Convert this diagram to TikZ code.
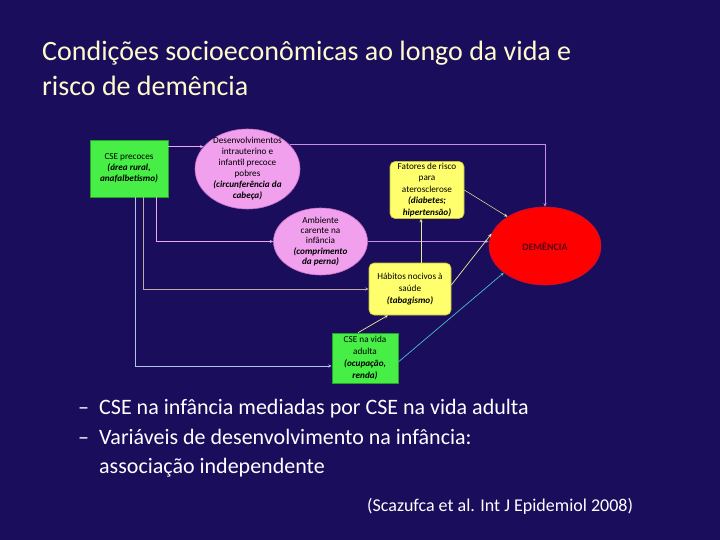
\documentclass[tikz,border=0pt]{standalone}
\usepackage{fontspec}
\setmainfont{Carlito}
\usepackage{tikz}
\usetikzlibrary{shapes.geometric,arrows.meta,positioning,calc}

\definecolor{slidebg}{RGB}{26,14,92}
\definecolor{titlecream}{RGB}{255,250,205}
\definecolor{cseGreen}{RGB}{70,238,70}
\definecolor{cseGreenDark}{RGB}{40,160,40}
\definecolor{devPink}{RGB}{240,160,236}
\definecolor{devPinkDark}{RGB}{200,110,200}
\definecolor{riskYellow}{RGB}{255,255,110}
\definecolor{riskYellowDark}{RGB}{190,190,60}
\definecolor{demRed}{RGB}{255,0,0}
\definecolor{demRedDark}{RGB}{190,20,60}
\definecolor{demText}{RGB}{90,0,20}
\definecolor{lnPink}{RGB}{235,170,240}
\definecolor{lnViolet}{RGB}{200,140,235}
\definecolor{lnTan}{RGB}{190,170,160}
\definecolor{lnBlue}{RGB}{175,195,235}
\definecolor{lnYellow}{RGB}{235,235,150}
\definecolor{lnCyan}{RGB}{70,190,200}

\tikzset{
  csebox/.style={draw=cseGreenDark, fill=cseGreen, line width=0.6pt,
                 inner sep=0pt, align=center,
                 font=\fontsize{9.2}{11.2}\selectfont},
  devoval/.style={ellipse, draw=devPinkDark, fill=devPink, line width=0.6pt,
                  inner xsep=-10pt, inner ysep=-20pt, align=center},
  riskbox/.style={draw=riskYellowDark, fill=riskYellow, line width=0.6pt,
                  rounded corners=5pt, inner sep=0pt, align=center,
                  font=\fontsize{9.2}{11.5}\selectfont},
  link/.style={line width=0.7pt, -{Stealth[length=3.5pt,width=3pt]}},
}

\begin{document}
\begin{tikzpicture}[x=1pt, y=-1pt]
    \fill[slidebg] (0,0) rectangle (720,540);

    % title
    \node[font=\fontsize{28}{32}\selectfont, text=titlecream, anchor=base west, inner sep=0pt]
      (title1) at (42,61) {Condições socioeconômicas ao longo da vida e};
    \node[font=\fontsize{28}{32}\selectfont, text=titlecream, anchor=base west, inner sep=0pt]
      (title2) at (42,96) {risco de demência};

    % boxes
    \node[csebox, minimum width=78pt, minimum height=57pt] (cseP) at (129,168.5)
      {CSE precoces\\\textbf{\textit{(área rural,}}\\\textbf{\textit{anafalbetismo)}}};
    \node[devoval, minimum width=105pt, minimum height=80pt,
          font=\fontsize{9.2}{11}\selectfont] (desenv) at (247.5,169)
      {Desenvolvimentos\\intrauterino e\\infantil precoce\\pobres\\
       \textbf{\textit{(circunferência da}}\\\textbf{\textit{cabeça)}}};
    \node[devoval, minimum width=94pt, minimum height=67pt,
          font=\fontsize{9.2}{10.3}\selectfont] (ambiente) at (320.5,241.5)
      {Ambiente\\carente na\\infância\\\textbf{\textit{(comprimento}}\\
       \textbf{\textit{da perna)}}};
    \node[riskbox, minimum width=74pt, minimum height=57pt] (fatores) at (427,190)
      {Fatores de risco\\para\\aterosclerose\\\textbf{\textit{(diabetes;}}\\
       \textbf{\textit{hipertensão)}}};
    \node[ellipse, draw=demRedDark, fill=demRed, line width=0.6pt,
          minimum width=112pt, minimum height=78pt, inner sep=0pt,
          font=\fontsize{10}{12}\selectfont\bfseries, text=demText] (demencia) at (545,246)
      {DEMÊNCIA};
    \node[riskbox, minimum width=82pt, minimum height=52pt,
          font=\fontsize{9.2}{12}\selectfont] (habitos) at (410,289)
      {Hábitos nocivos à\\saúde\\\textbf{\textit{(tabagismo)}}};
    \node[csebox, minimum width=66pt, minimum height=50pt,
          font=\fontsize{9.2}{11.7}\selectfont] (cseA) at (365,358)
      {CSE na vida\\adulta\\\textbf{\textit{(ocupação,}}\\\textbf{\textit{renda)}}};

    % connectors
    \draw[link, lnPink] (cseP.east |- desenv.153.3) -- (desenv.153.3);
    \draw[link, lnViolet] (desenv.30) -| (demencia.north);
    \draw[link, lnPink] ([xshift=27pt]cseP.south) |- (ambiente.west);
    \draw[link, lnTan] ([xshift=14pt]cseP.south) |- (habitos.west);
    \draw[link, lnBlue] ([xshift=6pt]cseP.south) |- ([yshift=-8pt]cseA.west);
    \draw[link, lnViolet] (ambiente.east) -- (ambiente.east -| demencia.west);
    \draw[link, lnYellow, line width=0.5pt] (fatores.east) -- (demencia.142);
    \draw[link, lnYellow] ([xshift=11pt]habitos.north)
      -- ([xshift=11pt]habitos.north |- fatores.south);
    \draw[link, lnYellow] ([yshift=4pt]habitos.east) -- (demencia.167);
    \draw[link, lnYellow] ([xshift=-7pt]cseA.north) -- ([xshift=-22pt]habitos.south);
    \draw[link, lnCyan] ([yshift=-4pt]cseA.east) -- (demencia.213);

    % bullets
    \foreach \t/\y [count=\n] in {{CSE na infância mediadas por CSE na vida adulta}/414,
                                  {Variáveis de desenvolvimento na infância:}/444}{
      \node[font=\fontsize{22}{26}\selectfont, text=white, anchor=base west, inner sep=0pt]
        (dash\n) at (78,\y) {–};
      \node[font=\fontsize{22}{26}\selectfont, text=white, anchor=base west, inner sep=0pt]
        (item\n) at (99,\y) {\t};
    }
    \node[font=\fontsize{22}{26}\selectfont, text=white, anchor=base west, inner sep=0pt]
      (item3) at (99,473) {associação independente};

    % reference
    \node[font=\fontsize{18}{21}\selectfont, text=white, anchor=base west, inner sep=0pt]
      (cite) at (367,511) {(Scazufca et al. Int J Epidemiol 2008)};
\end{tikzpicture}
\end{document}
